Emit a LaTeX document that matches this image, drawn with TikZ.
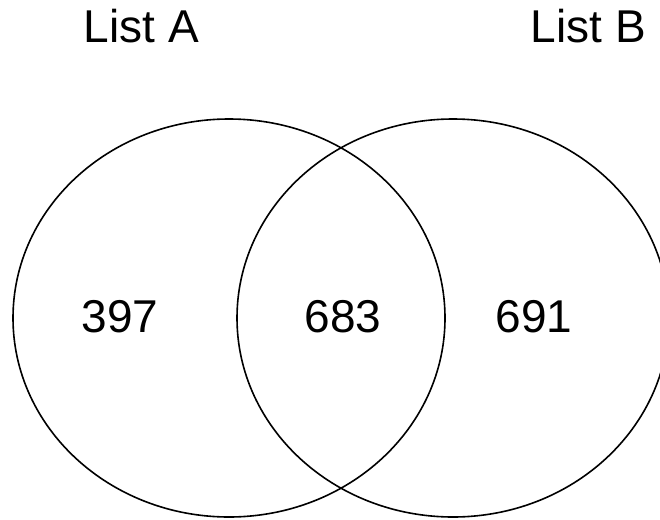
\documentclass[tikz,border=0pt]{standalone}
\usepackage{fontspec}
\setmainfont{Liberation Sans}
\usetikzlibrary{shapes.geometric}
\begin{document}
\begin{tikzpicture}[x=1pt,y=-1pt,
  setcircle/.style={draw=black, line width=1.6pt, ellipse, inner sep=0pt,
    minimum width=432pt, minimum height=398pt},
  lbl/.style={anchor=base, inner sep=0pt, font=\fontsize{46}{50}\selectfont}]
\useasboundingbox (0,0) rectangle (660,519);
\clip (0,0) rectangle (660,519);
\node[setcircle] (A) at (229,318) {};
\node[setcircle] (B) at (453,318) {};
\node[lbl] (tA) at (141.5,43) {List A};
\node[lbl] (tB) at (588.5,43) {List B};
\node[lbl] (nA) at (120,332) {397};
\node[lbl] (nAB) at (343,332) {683};
\node[lbl] (nB) at (534,332) {691};
\end{tikzpicture}
\end{document}
